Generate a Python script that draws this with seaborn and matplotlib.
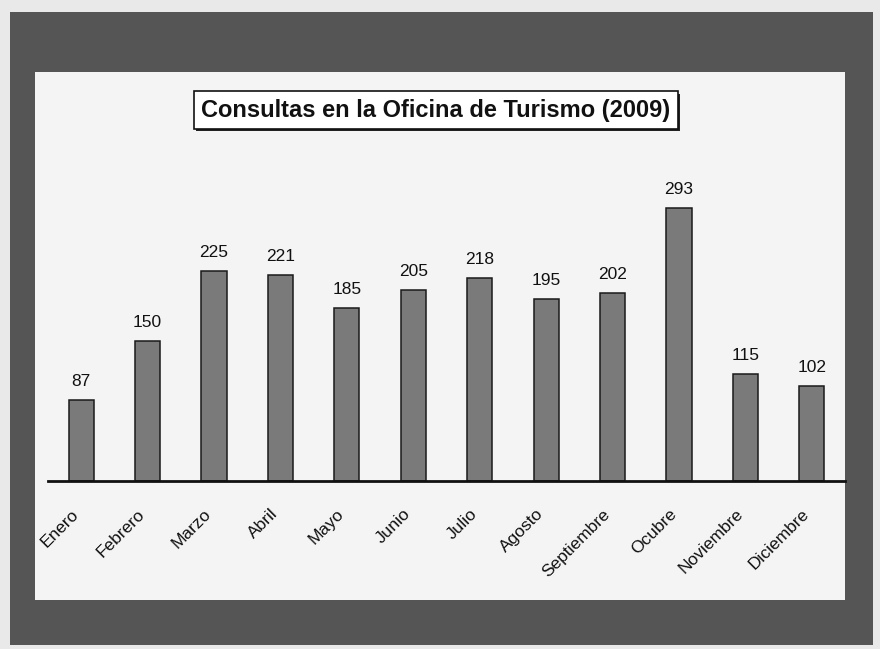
import pandas as pd
import matplotlib.pyplot as plt
import matplotlib.transforms as mtransforms
import matplotlib.patheffects as pe
from matplotlib.patches import Rectangle
import seaborn as sns

meses = ['Enero', 'Febrero', 'Marzo', 'Abril', 'Mayo', 'Junio', 'Julio',
         'Agosto', 'Septiembre', 'Ocubre', 'Noviembre', 'Diciembre']
consultas = [87, 150, 225, 221, 185, 205, 218, 195, 202, 293, 115, 102]
titulo = 'Consultas en la Oficina de Turismo (2009)'

sns.set_style('white')
plt.rcParams['font.family'] = ['Liberation Sans', 'DejaVu Sans']

W, H = 880, 649
fig = plt.figure(figsize=(W / 100, H / 100), dpi=100)
fig.patch.set_facecolor('#e9e9e9')

# marco oscuro del escaneo y panel claro interior
fig.patches.append(Rectangle((10 / W, 1 - 645 / H), 863 / W, 633 / H,
                             transform=fig.transFigure, facecolor='#555555',
                             edgecolor='none', zorder=-10))
fig.patches.append(Rectangle((35 / W, 1 - 600 / H), 810 / W, 528 / H,
                             transform=fig.transFigure, facecolor='#f4f4f4',
                             edgecolor='none', zorder=-9))

ax = fig.add_axes([48 / W, 1 - 481 / H, (845 - 48) / W, (481 - 108) / H])
ax.set_facecolor('none')
ax.set_zorder(1)

df = pd.DataFrame({'mes': meses, 'consultas': consultas})
sns.barplot(data=df, x='mes', y='consultas', color='#7a7a7a', saturation=1,
            edgecolor='#1a1a1a', linewidth=1.1, width=0.38, ax=ax)
ax.bar_label(ax.containers[0], padding=8, fontsize=12.5, color='#111111')

ax.set_ylim(0, 400)
ax.set_xlim(-0.5, len(meses) - 0.5)
ax.set_xlabel('')
ax.set_ylabel('')
ax.set_yticks([])
for s in ['top', 'right', 'left']:
    ax.spines[s].set_visible(False)
ax.spines['bottom'].set_linewidth(2)
ax.spines['bottom'].set_color('#111111')

ax.tick_params(axis='x', length=0, pad=22)
offset = mtransforms.ScaledTranslation(-5 / 100, 0, fig.dpi_scale_trans)
for lbl in ax.get_xticklabels():
    lbl.set_rotation(45)
    lbl.set_ha('right')
    lbl.set_va('center')
    lbl.set_rotation_mode('anchor')
    lbl.set_fontsize(12.5)
    lbl.set_color('#111111')
    lbl.set_transform(lbl.get_transform() + offset)

t = fig.text(436 / W, 1 - 110 / H, titulo, ha='center', va='center',
             fontsize=17, fontweight='bold', color='#111111', zorder=5,
             bbox=dict(boxstyle='square,pad=0.3', facecolor='white',
                       edgecolor='#111111', linewidth=1.2))
# sombra del recuadro del título
t.get_bbox_patch().set_path_effects([
    pe.SimplePatchShadow(offset=(1.5, -1.5), shadow_rgbFace='#222222', alpha=1),
    pe.Normal()])

fig.savefig('out.png', dpi=100, facecolor=fig.get_facecolor())
